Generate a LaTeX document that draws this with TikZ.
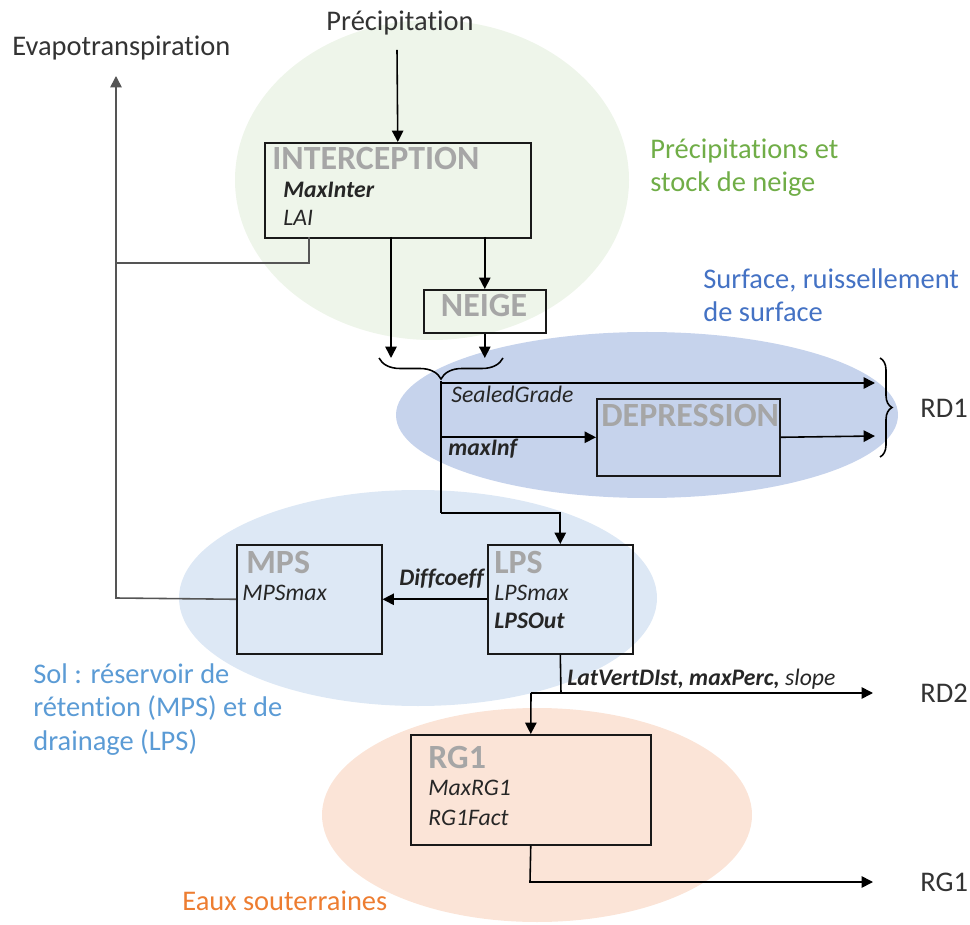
\documentclass[tikz,border=0pt]{standalone}
\usepackage{fontspec}
\setmainfont{Carlito}[Ligatures=NoCommon]
\usetikzlibrary{arrows.meta,decorations.pathreplacing}

\definecolor{zonevert}{HTML}{EEF5EA}
\definecolor{zonebleu}{HTML}{C6D3EC}
\definecolor{zonesol}{HTML}{DDE8F5}
\definecolor{zoneorange}{HTML}{FBE4D7}
\definecolor{txtvert}{HTML}{70AD47}
\definecolor{txtbleu}{HTML}{4472C4}
\definecolor{txtsol}{HTML}{5B9BD5}
\definecolor{txtorange}{HTML}{ED7D31}
\definecolor{titregris}{HTML}{A6A6A6}
\definecolor{traitgris}{HTML}{555555}

\begin{document}
\begin{tikzpicture}[x=0.02cm,y=-0.02cm,
  box/.style={draw=black!90,line width=0.9pt,anchor=north west,inner sep=0pt},
  titre/.style={anchor=base west,inner sep=0pt,text=titregris,font=\fontsize{19.3}{22}\selectfont\bfseries},
  param/.style={anchor=base west,inner sep=0pt,text=black!85,font=\fontsize{13.5}{16}\selectfont\itshape},
  paramb/.style={param,font=\fontsize{13.5}{16}\selectfont\bfseries\itshape},
  lbl/.style={anchor=base west,inner sep=0pt,align=left,text=black!80,font=\fontsize{16.2}{19}\selectfont},
  fl/.style={line width=0.9pt,-{Triangle[length=6.5pt,width=6.5pt]}},
  ln/.style={line width=0.9pt}]
\useasboundingbox (0,0) rectangle (970,925);

% zones
\fill[zonevert] (432,180) ellipse [x radius=197, y radius=160];
\fill[zonesol] (418,598) ellipse [x radius=239, y radius=108];
\fill[zonebleu] (647,415) ellipse [x radius=251, y radius=83];
\fill[zoneorange] (537,815) ellipse [x radius=215, y radius=107];

\node[lbl,text=txtvert] (tvert) at (650,192) {Précipitations et\\stock de neige};
\node[lbl,text=txtbleu] (tbleu) at (703,322) {Surface, ruissellement\\de surface};
\node[lbl,text=txtsol] (tsol) at (33,750) {Sol : réservoir de\\rétention (MPS) et de\\drainage (LPS)};
\node[lbl,text=txtorange] (torange) at (182,910) {Eaux souterraines};

% boites
\node[box,minimum width=5.32cm,minimum height=1.9cm] (inter) at (264,142) {};
\node[titre] (tinter) at (272,170) {INTERCEPTION};
\node[paramb] (maxinter) at (283,198) {MaxInter};
\node[param] (lai) at (283,226) {LAI};

\node[box,minimum width=2.44cm,minimum height=0.86cm] (neige) at (423,289) {};
\node[titre,anchor=base] (tneige) at (484,317) {NEIGE};

\node[box,minimum width=3.66cm,minimum height=1.54cm] (depr) at (596,398) {};
\node[titre] (tdepr) at (601,427) {DEPRESSION};

\node[box,minimum width=2.9cm,minimum height=2.18cm] (mps) at (236,544) {};
\node[titre] (tmps) at (246,573) {MPS};
\node[param] (mpsmax) at (242,600) {MPSmax};

\node[box,minimum width=2.9cm,minimum height=2.18cm] (lps) at (487,544) {};
\node[titre] (tlps) at (494,573) {LPS};
\node[param] (lpsmax) at (494,600) {LPSmax};
\node[paramb] (lpsout) at (494,628) {LPSOut};

\node[box,minimum width=4.8cm,minimum height=2.2cm] (rg) at (410,734) {};
\node[titre] (trg) at (428,768) {RG1};
\node[param] (maxrg) at (428,795) {MaxRG1};
\node[param] (rgfact) at (428,825) {RG1Fact};

% entrees et sorties
\node[lbl,anchor=base] (precip) at (400,31) {Précipitation};
\node[lbl] (evapo) at (12,56) {Evapotranspiration};
\node[lbl,anchor=west] (rd1) at (920,408) {RD1};
\node[lbl,anchor=west] (rd2) at (920,693) {RD2};
\node[lbl,anchor=west] (rgout) at (920,882) {RG1};

\coordinate (pctop) at (397,50);
\coordinate (interB) at (391,237);
\coordinate (interL) at (309,237);
\coordinate (evtop) at (116,76);
\coordinate (evlai) at (116,263);
\coordinate (evmps) at (116,598);
\coordinate (brL) at (379,358);
\coordinate (brR) at (503,358);
\coordinate (brtip) at (441,381);
\coordinate (coude) at (441,513);
\coordinate (rdA) at (875,383);
\coordinate (rdB) at (875,436);
\coordinate (rdT) at (880,358);
\coordinate (rdD) at (880,457);
\coordinate (perc) at (561,693);
\coordinate (percL) at (531,693);
\coordinate (rd2end) at (873,693);
\coordinate (rgcoude) at (530,882);
\coordinate (rgend) at (873,882);

\draw[fl] (pctop) -- (inter.north);
\draw[fl] (interB) -- (interB |- brL);
\draw[fl] (neige.north |- interB) -- (neige.north);
\draw[fl] (neige.south) -- (neige.south |- brL);
\draw[ln,decorate,decoration={brace,mirror,amplitude=0.42cm}] (brL) -- (brR);

% evapotranspiration
\draw[ln,traitgris] (interL) -- (interL |- evlai) -- (evlai);
\draw[ln,traitgris] (mps.west) -- (evmps) -- (evlai);
\draw[fl,traitgris] (evlai) -- (evtop);

% ruissellement
\draw[ln] (brtip) -- (coude);
\draw[fl] (coude) -- (lps.north |- coude) -- (lps.north);
\draw[fl] (brtip |- rdA) -- (rdA);
\node[param] (sealed) at (451,403) {SealedGrade};
\draw[fl] (brtip |- depr.west) -- (depr.west);
\node[paramb] (maxinf) at (448,456) {maxInf};
\draw[fl] (depr.east) -- (rdB);
\draw[ln,decorate,decoration={brace,amplitude=0.24cm}] (rdT) -- (rdD);

% sol
\draw[fl] (lps.west) -- (mps.east);
\node[paramb] (diff) at (399,585) {Diffcoeff};
\draw[ln] (lps.south) -- (perc);
\draw[fl] (percL) -- (rd2end);
\draw[fl] (percL) -- (rg.north);
\node[param] (perclbl) at (567,685) {\textbf{LatVertDIst, maxPerc,} slope};

% nappe
\draw[fl] (rg.south) -- (rgcoude) -- (rgend);
\end{tikzpicture}
\end{document}
